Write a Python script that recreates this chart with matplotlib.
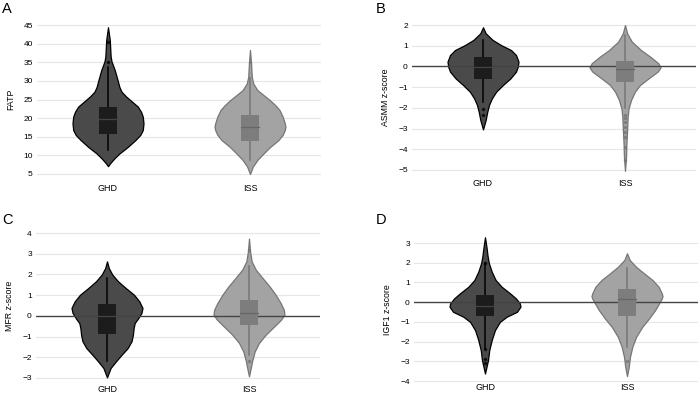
import matplotlib.pyplot as plt
from matplotlib.patches import Rectangle

plt.rcParams['font.family'] = ['Liberation Sans', 'DejaVu Sans']

groups = ['GHD', 'ISS']

# violin outlines: (value, relative half-width 0..1)
fatp_ghd = [(7.1, 0), (7.9, .06), (9.2, .18), (10.5, .32), (12.3, .56), (14.1, .77), (15.5, .91),
            (16.8, .98), (18.6, 1.0), (20.4, .98), (21.7, .93), (23.1, .84), (24.4, .68), (25.8, .51),
            (27.1, .38), (28.4, .32), (30.2, .27), (32.9, .19), (35.2, .10), (36.5, .075),
            (41.0, .05), (44.4, 0)]
fatp_iss = [(5.0, 0), (7.0, .08), (8.8, .21), (10.5, .38), (12.3, .57), (14.1, .80), (15.5, .92),
            (16.8, .98), (17.7, 1.0), (18.6, .98), (20.4, .92), (22.2, .83), (23.5, .71), (24.9, .55),
            (26.2, .38), (27.5, .21), (29.3, .09), (31.1, .05), (34.7, .03), (38.3, 0)]
asmm_ghd = [(-3.04, 0), (-2.59, .075), (-2.19, .12), (-1.86, .17), (-1.54, .25), (-1.22, .37),
            (-0.9, .56), (-0.58, .77), (-0.25, .93), (-0.01, .98), (0.23, 1.0), (0.55, .93),
            (0.79, .79), (1.03, .51), (1.28, .27), (1.6, .075), (1.89, 0)]
asmm_iss = [(-5.04, 0), (-4.36, .03), (-3.72, .04), (-3.07, .06), (-2.43, .075), (-2.03, .10),
            (-1.62, .17), (-1.22, .28), (-0.9, .42), (-0.58, .66), (-0.25, .92), (-0.05, 1.0),
            (0.15, .94), (0.47, .71), (0.79, .45), (1.2, .19), (1.6, .06), (2.0, 0)]
mfr_ghd = [(-2.97, 0), (-2.52, .10), (-2.2, .25), (-1.88, .41), (-1.56, .58), (-1.23, .69),
           (-0.91, .73), (-0.59, .75), (-0.35, .78), (-0.11, .88), (0.14, .97), (0.38, 1.0),
           (0.7, .91), (1.02, .76), (1.34, .53), (1.67, .31), (1.99, .15), (2.31, .05), (2.63, 0)]
mfr_iss = [(-2.92, 0), (-2.52, .05), (-2.2, .085), (-1.72, .16), (-1.31, .28), (-0.91, .47),
           (-0.51, .71), (-0.19, .90), (0.06, 1.0), (0.3, .98), (0.62, .89), (1.02, .75),
           (1.42, .58), (1.83, .38), (2.23, .19), (2.63, .075), (3.11, .03), (3.73, 0)]
igf1_ghd = [(-3.62, 0), (-2.94, .085), (-2.43, .12), (-1.92, .19), (-1.42, .28), (-1.0, .42),
            (-0.74, .61), (-0.49, .90), (-0.23, 1.0), (-0.06, .98), (0.19, .87), (0.44, .71),
            (0.78, .47), (1.12, .30), (1.54, .19), (1.97, .11), (2.31, .075), (2.81, .04), (3.29, 0)]
igf1_iss = [(-3.75, 0), (-3.28, .05), (-2.77, .085), (-2.26, .15), (-1.75, .26), (-1.25, .43),
            (-0.83, .62), (-0.41, .79), (-0.07, .90), (0.19, .98), (0.3, 1.0), (0.44, .98),
            (0.78, .89), (1.12, .72), (1.46, .48), (1.8, .25), (2.14, .075), (2.48, 0)]

# box stats: whisker low, q1, median, q3, whisker high
fatp_box = [(11.4, 15.7, 19.8, 23.1, 33.8), (8.8, 13.9, 17.5, 20.8, 30.7)]
asmm_box = [(-1.7, -0.59, -0.01, 0.47, 1.28), (-2.0, -0.77, -0.14, 0.26, 1.5)]
mfr_box = [(-2.2, -0.88, -0.03, 0.57, 1.83), (-1.88, -0.43, 0.14, 0.78, 2.39)]
igf1_box = [(-2.35, -0.71, -0.2, 0.36, 1.97), (-2.26, -0.69, 0.14, 0.66, 1.71)]

fatp_out = [[35.2, 40.5], [35.0]]
asmm_out = [[-2.07, -2.35], [-2.35, -2.51, -2.67, -2.91, -3.15, -3.4, -3.9, -4.5]]
mfr_out = [[], [3.2, -2.2]]
igf1_out = [[2.0, -2.4, -2.9, -3.1], [-3.0]]

panels = [
    # letter, ylabel, violins, boxes, outliers, ticks, ylim, left px, (tick, px), (tick, px), ylabel x, cat label y
    ('A', 'FATP', [fatp_ghd, fatp_iss], fatp_box, fatp_out, range(5, 50, 5), (4.0, 46.0),
     37, (5, 174), (45, 25), 11, 188, False),
    ('B', 'ASMM z-score', [asmm_ghd, asmm_iss], asmm_box, asmm_out, range(-5, 3), (-5.25, 2.25),
     412, (-5, 170), (2, 25), 385, 183, True),
    ('C', 'MFR z-score', [mfr_ghd, mfr_iss], mfr_box, mfr_out, range(-3, 5), (-3.2, 4.2),
     36, (-3, 378), (4, 233), 10, 389, True),
    ('D', 'IGF1 z-score', [igf1_ghd, igf1_iss], igf1_box, igf1_out, range(-4, 4), (-4.2, 3.4),
     414, (-4, 381), (3, 243), 388, 388, True),
]

fill_c = ['#4a4a4a', '#a3a3a3']
edge_c = ['#000000', '#767676']
box_c = ['#1c1c1c', '#7d7d7d']
med_c = ['#444444', '#666666']

W, H = 700, 393
fig = plt.figure(figsize=(7, 3.93), dpi=100)

for letter, ylabel, violins, boxes, outs, ticks, ylim, left, lo, hi, lab_x, cat_y, zero in panels:
    ppu = (lo[1] - hi[1]) / (hi[0] - lo[0])
    top_px = hi[1] - (ylim[1] - hi[0]) * ppu
    bot_px = lo[1] + (lo[0] - ylim[0]) * ppu
    ax = fig.add_axes([left / W, 1 - bot_px / H, 284 / W, (bot_px - top_px) / H])
    ax.set_xlim(-0.5, 1.5)
    ax.set_ylim(*ylim)
    for s in ax.spines.values():
        s.set_visible(False)
    ax.set_yticks(list(ticks))
    ax.set_xticks([])
    ax.tick_params(axis='y', length=0, labelsize=6, pad=3)
    for t in ticks:
        if zero and t == 0:
            continue
        ax.axhline(t, color='#e6e6e6', lw=0.8, zorder=0)
    if zero:
        ax.axhline(0, color='#444444', lw=1.0, zorder=3)

    for i, (outline, b, o) in enumerate(zip(violins, boxes, outs)):
        ys = [p[0] for p in outline]
        ws = [p[1] * 0.25 for p in outline]
        ax.fill_betweenx(ys, [i - w for w in ws], [i + w for w in ws],
                         facecolor=fill_c[i], edgecolor=edge_c[i], lw=0.9,
                         joinstyle='round', zorder=2)
        ax.plot([i, i], [b[0], b[4]], color=edge_c[i], lw=1.1, zorder=4)
        ax.add_patch(Rectangle((i - 0.0625, b[1]), 0.125, b[3] - b[1],
                               facecolor=box_c[i], edgecolor='none', zorder=5))
        ax.plot([i - 0.0625, i + 0.0625], [b[2], b[2]], color=med_c[i], lw=0.9, zorder=6)
        ax.plot([i] * len(o), o, 'o', ms=1.5, color=edge_c[i], alpha=0.7, zorder=6)
        fig.text((left + 71 + 142 * i) / W, 1 - cat_y / H, groups[i],
                 ha='center', va='center', fontsize=6.5)

    fig.text(lab_x / W, 1 - (top_px + bot_px) / 2 / H, ylabel, rotation=90,
             ha='center', va='center', fontsize=6.3)
    fig.text((2 if left < 300 else 376) / W, 1 - (2 if hi[1] < 200 else 213) / H, letter,
             ha='left', va='top', fontsize=10.5)

fig.savefig('out.png', dpi=100)
